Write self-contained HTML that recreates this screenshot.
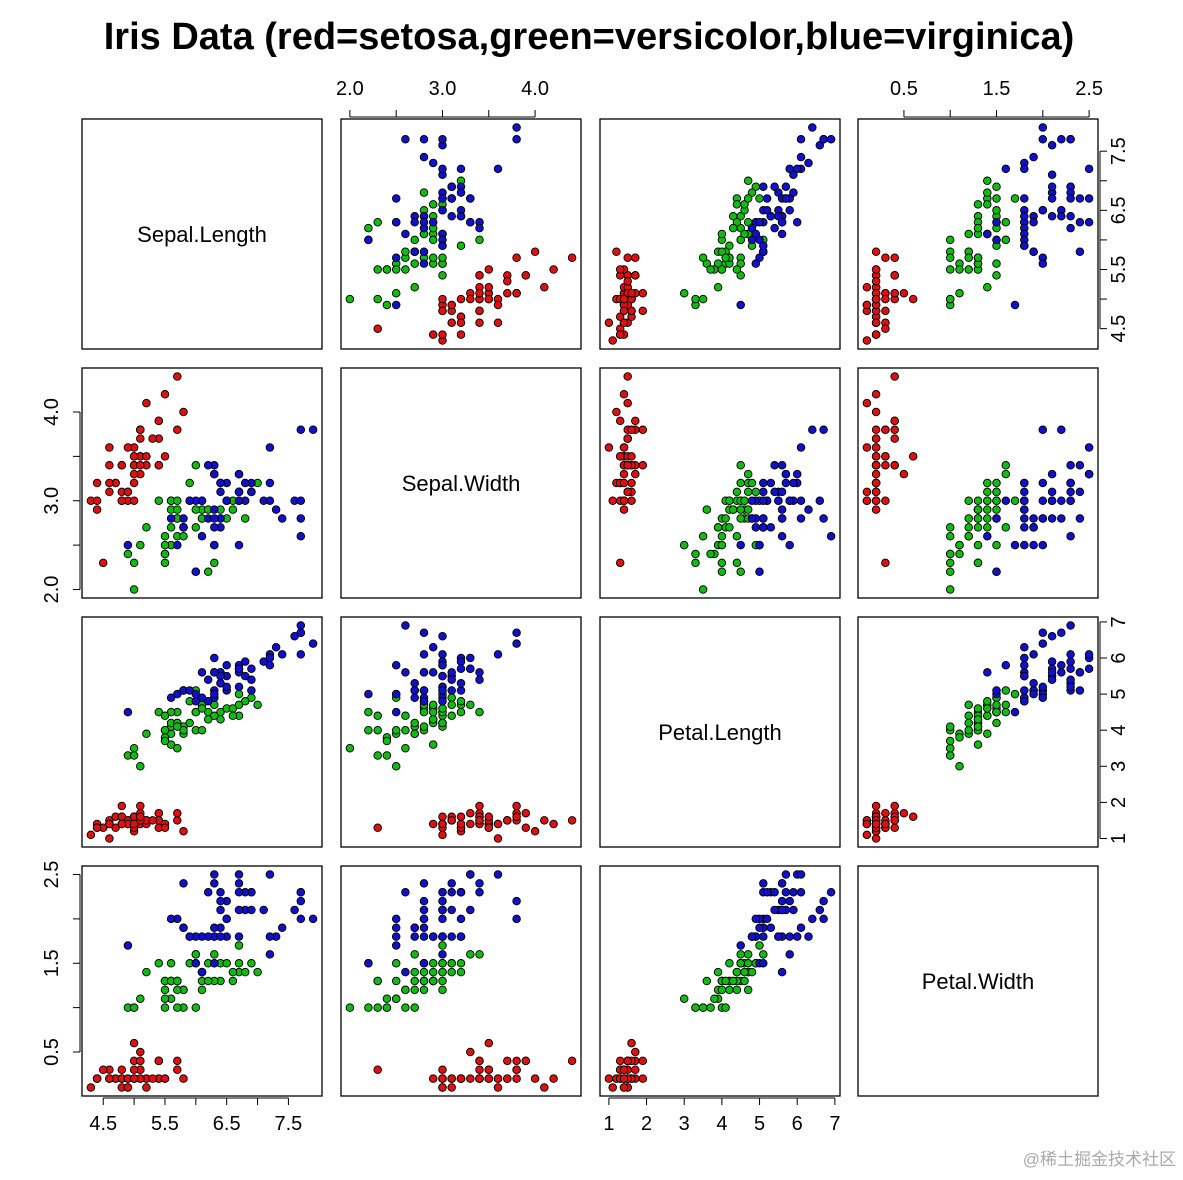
<!DOCTYPE html>
<html><head><meta charset="utf-8"><style>
body{margin:0;background:#fff;width:1183px;height:1175px;overflow:hidden}
svg text{font-family:"Liberation Sans",Arial,sans-serif}
</style></head><body>
<svg id="s" width="1183" height="1175" xmlns="http://www.w3.org/2000/svg">
<text x="589" y="49" text-anchor="middle" font-size="38" font-weight="bold">Iris Data (red=setosa,green=versicolor,blue=virginica)</text>
<text x="1176" y="1165" text-anchor="end" font-size="17" fill="#aaa" font-family="'Liberation Sans','Noto Sans CJK SC',sans-serif">@稀土掘金技术社区</text>
</svg>
<script>
const raw=`5.1 3.5 1.4 0.2,4.9 3.0 1.4 0.2,4.7 3.2 1.3 0.2,4.6 3.1 1.5 0.2,5.0 3.6 1.4 0.2,5.4 3.9 1.7 0.4,4.6 3.4 1.4 0.3,5.0 3.4 1.5 0.2,4.4 2.9 1.4 0.2,4.9 3.1 1.5 0.1,5.4 3.7 1.5 0.2,4.8 3.4 1.6 0.2,4.8 3.0 1.4 0.1,4.3 3.0 1.1 0.1,5.8 4.0 1.2 0.2,5.7 4.4 1.5 0.4,5.4 3.9 1.3 0.4,5.1 3.5 1.4 0.3,5.7 3.8 1.7 0.3,5.1 3.8 1.5 0.3,5.4 3.4 1.7 0.2,5.1 3.7 1.5 0.4,4.6 3.6 1.0 0.2,5.1 3.3 1.7 0.5,4.8 3.4 1.9 0.2,5.0 3.0 1.6 0.2,5.0 3.4 1.6 0.4,5.2 3.5 1.5 0.2,5.2 3.4 1.4 0.2,4.7 3.2 1.6 0.2,4.8 3.1 1.6 0.2,5.4 3.4 1.5 0.4,5.2 4.1 1.5 0.1,5.5 4.2 1.4 0.2,4.9 3.1 1.5 0.2,5.0 3.2 1.2 0.2,5.5 3.5 1.3 0.2,4.9 3.6 1.4 0.1,4.4 3.0 1.3 0.2,5.1 3.4 1.5 0.2,5.0 3.5 1.3 0.3,4.5 2.3 1.3 0.3,4.4 3.2 1.3 0.2,5.0 3.5 1.6 0.6,5.1 3.8 1.9 0.4,4.8 3.0 1.4 0.3,5.1 3.8 1.6 0.2,4.6 3.2 1.4 0.2,5.3 3.7 1.5 0.2,5.0 3.3 1.4 0.2,7.0 3.2 4.7 1.4,6.4 3.2 4.5 1.5,6.9 3.1 4.9 1.5,5.5 2.3 4.0 1.3,6.5 2.8 4.6 1.5,5.7 2.8 4.5 1.3,6.3 3.3 4.7 1.6,4.9 2.4 3.3 1.0,6.6 2.9 4.6 1.3,5.2 2.7 3.9 1.4,5.0 2.0 3.5 1.0,5.9 3.0 4.2 1.5,6.0 2.2 4.0 1.0,6.1 2.9 4.7 1.4,5.6 2.9 3.6 1.3,6.7 3.1 4.4 1.4,5.6 3.0 4.5 1.5,5.8 2.7 4.1 1.0,6.2 2.2 4.5 1.5,5.6 2.5 3.9 1.1,5.9 3.2 4.8 1.8,6.1 2.8 4.0 1.3,6.3 2.5 4.9 1.5,6.1 2.8 4.7 1.2,6.4 2.9 4.3 1.3,6.6 3.0 4.4 1.4,6.8 2.8 4.8 1.4,6.7 3.0 5.0 1.7,6.0 2.9 4.5 1.5,5.7 2.6 3.5 1.0,5.5 2.4 3.8 1.1,5.5 2.4 3.7 1.0,5.8 2.7 3.9 1.2,6.0 2.7 5.1 1.6,5.4 3.0 4.5 1.5,6.0 3.4 4.5 1.6,6.7 3.1 4.7 1.5,6.3 2.3 4.4 1.3,5.6 3.0 4.1 1.3,5.5 2.5 4.0 1.3,5.5 2.6 4.4 1.2,6.1 3.0 4.6 1.4,5.8 2.6 4.0 1.2,5.0 2.3 3.3 1.0,5.6 2.7 4.2 1.3,5.7 3.0 4.2 1.2,5.7 2.9 4.2 1.3,6.2 2.9 4.3 1.3,5.1 2.5 3.0 1.1,5.7 2.8 4.1 1.3,6.3 3.3 6.0 2.5,5.8 2.7 5.1 1.9,7.1 3.0 5.9 2.1,6.3 2.9 5.6 1.8,6.5 3.0 5.8 2.2,7.6 3.0 6.6 2.1,4.9 2.5 4.5 1.7,7.3 2.9 6.3 1.8,6.7 2.5 5.8 1.8,7.2 3.6 6.1 2.5,6.5 3.2 5.1 2.0,6.4 2.7 5.3 1.9,6.8 3.0 5.5 2.1,5.7 2.5 5.0 2.0,5.8 2.8 5.1 2.4,6.4 3.2 5.3 2.3,6.5 3.0 5.5 1.8,7.7 3.8 6.7 2.2,7.7 2.6 6.9 2.3,6.0 2.2 5.0 1.5,6.9 3.2 5.7 2.3,5.6 2.8 4.9 2.0,7.7 2.8 6.7 2.0,6.3 2.7 4.9 1.8,6.7 3.3 5.7 2.1,7.2 3.2 6.0 1.8,6.2 2.8 4.8 1.8,6.1 3.0 4.9 1.8,6.4 2.8 5.6 2.1,7.2 3.0 5.8 1.6,7.4 2.8 6.1 1.9,7.9 3.8 6.4 2.0,6.4 2.8 5.6 2.2,6.3 2.8 5.1 1.5,6.1 2.6 5.6 1.4,7.7 3.0 6.1 2.3,6.3 3.4 5.6 2.4,6.4 3.1 5.5 1.8,6.0 3.0 4.8 1.8,6.9 3.1 5.4 2.1,6.7 3.1 5.6 2.4,6.9 3.1 5.1 2.3,5.8 2.7 5.1 1.9,6.8 3.2 5.9 2.3,6.7 3.3 5.7 2.5,6.7 3.0 5.2 2.3,6.3 2.5 5.0 1.9,6.5 3.0 5.2 2.0,6.2 3.4 5.4 2.3,5.9 3.0 5.1 1.8`;
const d=raw.split(',').map(r=>r.trim().split(/\s+/).map(Number));
const names=['Sepal.Length','Sepal.Width','Petal.Length','Petal.Width'];
const mins=[4.3,2.0,1.0,0.1],maxs=[7.9,4.4,6.9,2.5];
const lo=[],hi=[];for(let i=0;i<4;i++){const r=maxs[i]-mins[i];lo.push(mins[i]-0.04*r);hi.push(maxs[i]+0.04*r);}
const px=[82,341,600,858],py=[119,368,617,866],W=240,H=230;
const cfill=['#dd1111','#11bb11','#1111cc'];
let s='';
const X=(v,c)=>px[c]+(v-lo[c])/(hi[c]-lo[c])*W;
const Y=(v,r)=>py[r]+H-(v-lo[r])/(hi[r]-lo[r])*H;
for(let r=0;r<4;r++)for(let c=0;c<4;c++){
 s+=`<rect x="${px[c]}" y="${py[r]}" width="${W}" height="${H}" fill="none" stroke="#000" stroke-width="1.3"/>`;
 if(r==c){s+=`<text x="${px[c]+W/2}" y="${py[r]+H/2+8}" text-anchor="middle" font-size="22">${names[r]}</text>`;continue;}
 d.forEach((p,i)=>{s+=`<circle cx="${X(p[c],c).toFixed(1)}" cy="${Y(p[r],r).toFixed(1)}" r="3.8" fill="${cfill[Math.floor(i/50)]}" stroke="#000" stroke-width="0.9"/>`;});
}
const ticks=[[4.5,5,5.5,6,6.5,7,7.5],[2,2.5,3,3.5,4],[1,2,3,4,5,6,7],[0.5,1,1.5,2,2.5]];
const lab=[v=>[4.5,5.5,6.5,7.5].includes(v)?v.toFixed(1):'',v=>[2,3,4].includes(v)?v.toFixed(1):'',v=>String(v),v=>[0.5,1.5,2.5].includes(v)?v.toFixed(1):''];
function hax(c,y,dir){const t=ticks[c];s+=`<line x1="${X(t[0],c)}" x2="${X(t[t.length-1],c)}" y1="${y}" y2="${y}" stroke="#000"/>`;
 t.forEach(v=>{const x=X(v,c);s+=`<line x1="${x}" x2="${x}" y1="${y}" y2="${y+dir*7}" stroke="#000"/>`;const l=lab[c](v);if(l)s+=`<text x="${x}" y="${dir>0?y+32:y-22}" text-anchor="middle" font-size="20">${l}</text>`;});}
function vax(r,x,dir){const t=ticks[r];s+=`<line y1="${Y(t[0],r)}" y2="${Y(t[t.length-1],r)}" x1="${x}" x2="${x}" stroke="#000"/>`;
 t.forEach(v=>{const y=Y(v,r);s+=`<line y1="${y}" y2="${y}" x1="${x}" x2="${x+dir*7}" stroke="#000"/>`;const l=lab[r](v);if(l){const tx=dir<0?x-22:x+18;s+=`<text transform="translate(${tx},${y}) rotate(-90)" text-anchor="middle" dy="${dir<0?0:7}" font-size="20">${l}</text>`;}});}
hax(0,1098,1);hax(2,1098,1);hax(1,117,-1);hax(3,117,-1);
vax(1,80,-1);vax(3,80,-1);vax(0,1100,1);vax(2,1100,1);
document.getElementById('s').insertAdjacentHTML('beforeend',s);
</script>
</body></html>
